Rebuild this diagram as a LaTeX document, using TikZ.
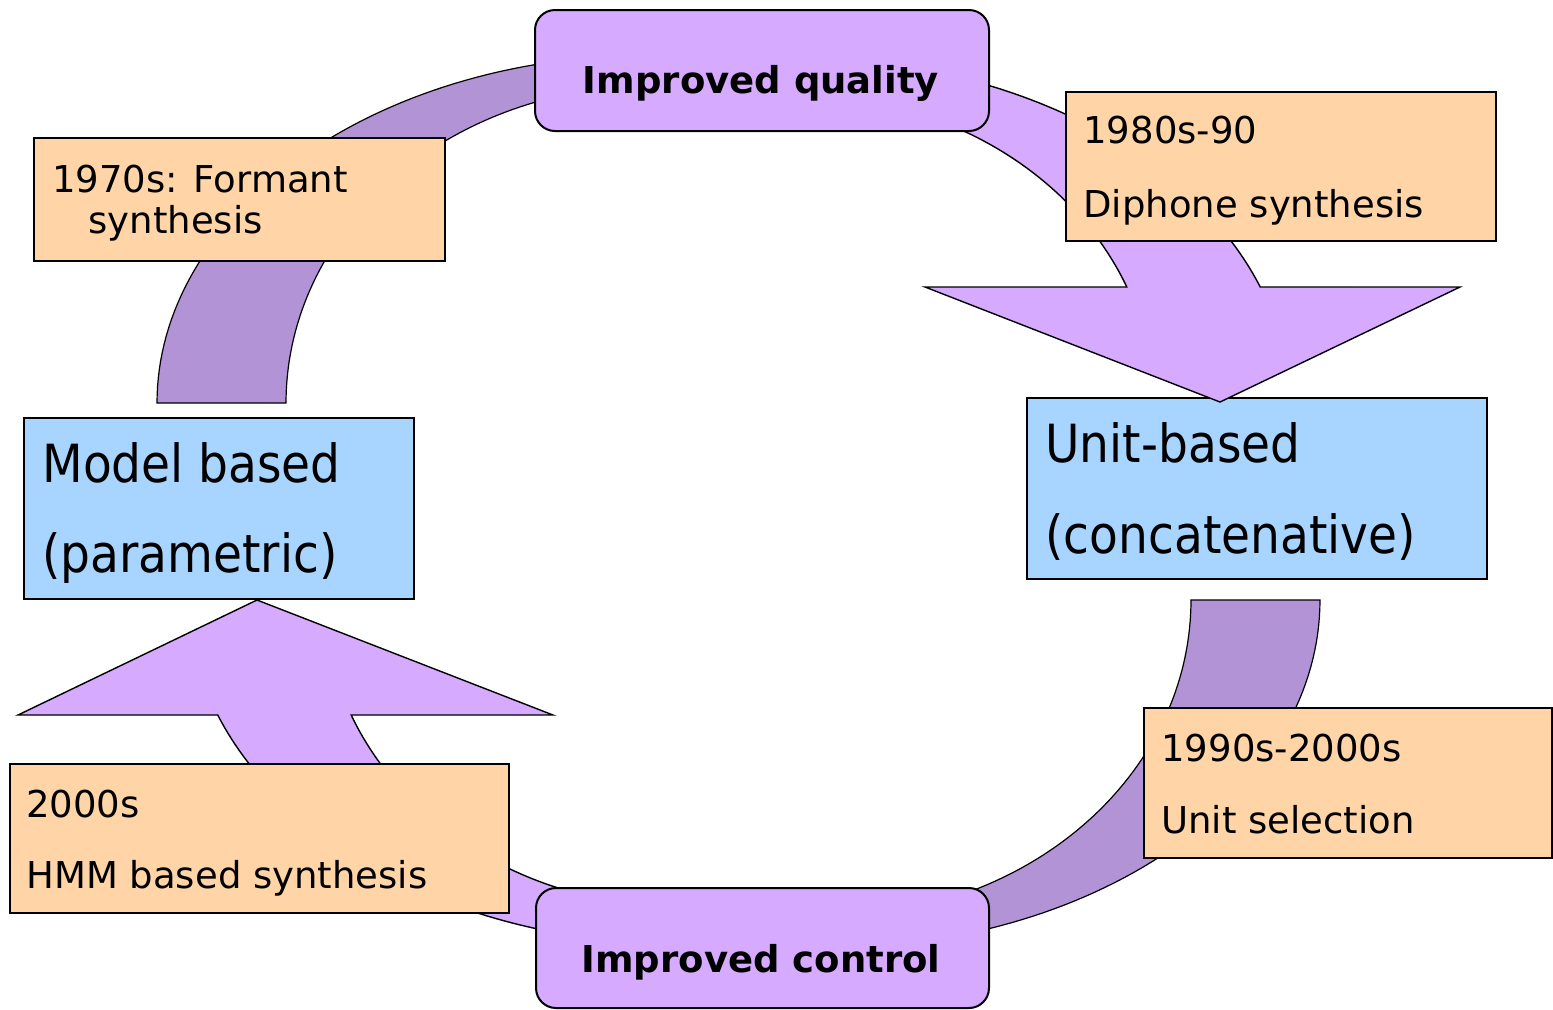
\documentclass[tikz,border=0pt]{standalone}
\usepackage{fontspec}
\setmainfont{DejaVu Sans}
\newfontfamily\narrowsans[FakeStretch=0.895]{DejaVu Sans}
\definecolor{arcdark}{HTML}{B293D6}
\definecolor{arclight}{HTML}{D6AAFF}
\definecolor{notefill}{HTML}{FFD5A8}
\definecolor{classfill}{HTML}{A8D5FF}
\begin{document}
\begin{tikzpicture}[x=0.5pt, y=-0.5pt,
  classbox/.style={draw, line width=1pt, fill=classfill, inner sep=0pt, anchor=north west},
  notebox/.style={draw, line width=1pt, fill=notefill, inner sep=0pt, anchor=north west},
  phasebox/.style={draw, line width=1pt, fill=arclight, rounded corners=10pt, inner sep=0pt, anchor=north west},
  darkband/.style={draw, line width=0.6pt, fill=arcdark},
  lightband/.style={draw, line width=0.7pt, fill=arclight, line join=miter},
  classtext/.style={inner sep=0pt, anchor=base west, font=\narrowsans\fontsize{26.3pt}{31pt}\selectfont},
  notetext/.style={inner sep=0pt, anchor=base west, font=\fontsize{18.5pt}{22pt}\selectfont},
  phasetext/.style={inner sep=0pt, anchor=base, font=\bfseries\fontsize{18.5pt}{22pt}\selectfont},
]
\useasboundingbox (0,0) rectangle (1553,1009);

% the two synthesis families
\node[classbox, minimum width=195pt, minimum height=90.5pt] (model) at (23,417) {};
\node[classbox, minimum width=230pt, minimum height=90.5pt] (unit) at (1026,397) {};
\node[classtext] (modelA) at (42,482) {Model based};
\node[classtext] (modelB) at (42,572) {(parametric)};
\node[classtext] (unitA) at (1045,462) {Unit-based};
\node[classtext] (unitB) at (1045,553) {(concatenative)};

% upper-left band
\path[darkband]
  plot[domain=180:262, samples=60] ({650+493*cos(\x)}, {403+348*sin(\x)})
  -- plot[domain=257:180, samples=60] ({650+364*cos(\x)}, {403+317*sin(\x)})
  -- cycle;

% upper-right arrow into the unit-based family
\path[lightband]
  plot[domain=-80:-20, samples=60] ({797+493*cos(\x)}, {406+348*sin(\x)})
  -- (1460,287) -- (1220,402) -- (925,287)
  -- plot[domain=-22.5:-75, samples=60] ({797+357*cos(\x)}, {406+311*sin(\x)})
  -- cycle;

% lower-right band
\path[darkband]
  plot[domain=0:82, samples=60] ({827+493*cos(\x)}, {600+348*sin(\x)})
  -- plot[domain=77:0, samples=60] ({827+364*cos(\x)}, {600+317*sin(\x)})
  -- cycle;

% lower-left arrow into the model-based family
\path[lightband]
  plot[domain=100:160, samples=60] ({681+493*cos(\x)}, {596+348*sin(\x)})
  -- (18,715) -- (257,600) -- (553,715)
  -- plot[domain=157.5:105, samples=60] ({681+357*cos(\x)}, {596+311*sin(\x)})
  -- cycle;

% goals
\node[phasebox, minimum width=227pt, minimum height=60.5pt] (quality) at (534,9) {};
\node[phasebox, minimum width=226.5pt, minimum height=60pt] (control) at (535,887) {};
\node[phasetext] (qualityT) at (761,93) {Improved quality};
\node[phasetext] (controlT) at (761,972) {Improved control};

% eras
\node[notebox, minimum width=205.5pt, minimum height=61.5pt] (formant) at (33,137) {};
\node[notetext] (formantA) at (52,192) {1970s: Formant};
\node[notetext] (formantB) at (88,233) {synthesis};

\node[notebox, minimum width=215pt, minimum height=74.5pt] (diphone) at (1065,91) {};
\node[notetext] (diphoneA) at (1083,143) {1980s-90};
\node[notetext] (diphoneB) at (1083,217) {Diphone synthesis};

\node[notebox, minimum width=204pt, minimum height=75pt] (selection) at (1143,707) {};
\node[notetext] (selectionA) at (1161,761) {1990s-2000s};
\node[notetext] (selectionB) at (1161,833) {Unit selection};

\node[notebox, minimum width=249.5pt, minimum height=74.5pt] (hmm) at (9,763) {};
\node[notetext] (hmmA) at (26,817) {2000s};
\node[notetext] (hmmB) at (26,888) {HMM based synthesis};
\end{tikzpicture}
\end{document}
